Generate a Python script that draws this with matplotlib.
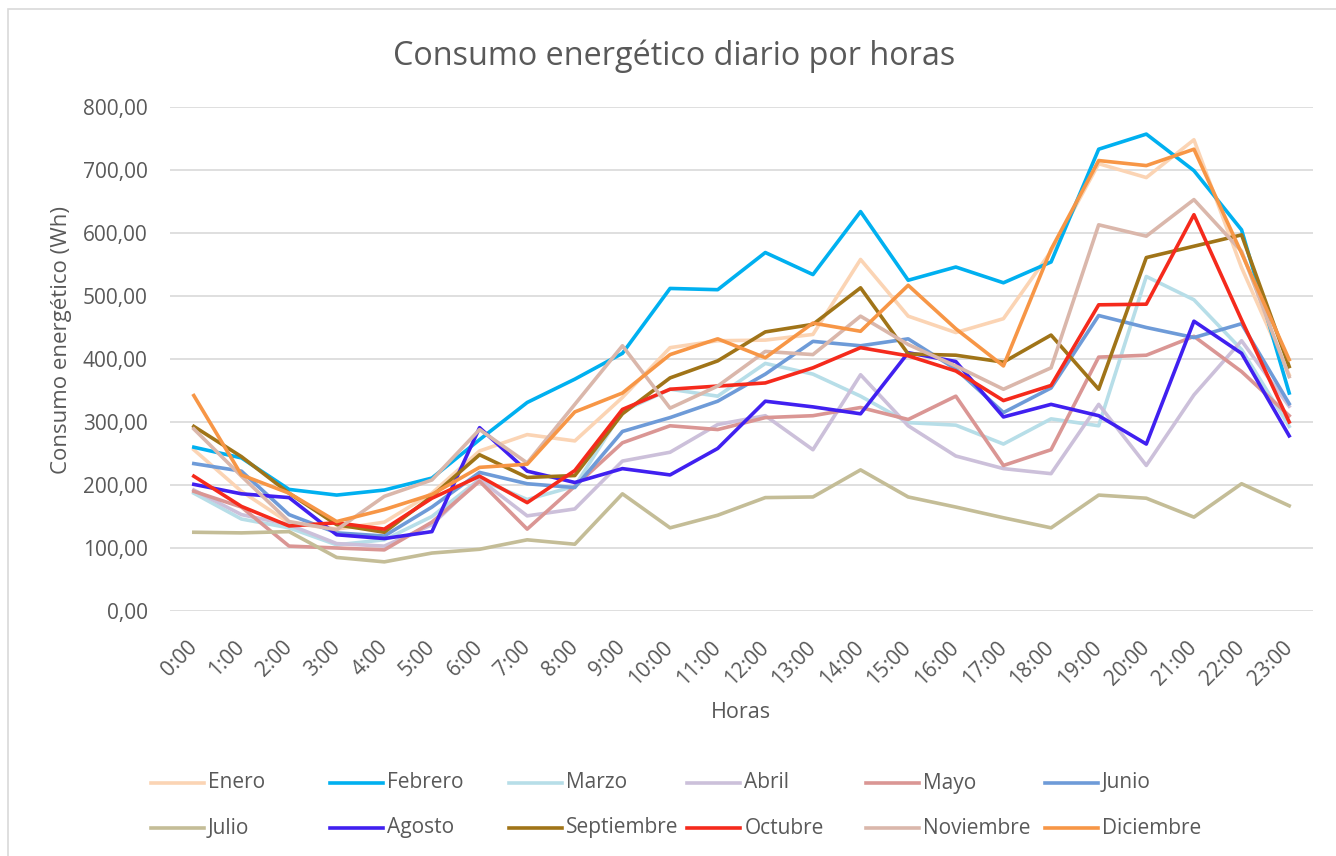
import matplotlib.pyplot as plt
import matplotlib.patches as patches
from matplotlib.lines import Line2D
from matplotlib.ticker import FuncFormatter

plt.rcParams["font.family"] = ["Open Sans", "DejaVu Sans"]

# horas del día
horas = ["%d:00" % h for h in range(24)]

# consumo medio por hora de cada mes (Wh)
enero = [256, 190, 140, 130, 141, 187, 254, 280, 270, 339, 418, 429, 430, 439, 558, 468, 442, 464, 571, 710, 688, 748, 545, 375]
febrero = [260, 243, 193, 184, 192, 211, 272, 331, 368, 409, 512, 510, 569, 534, 634, 525, 546, 521, 554, 733, 757, 699, 605, 346]
marzo = [187, 146, 132, 105, 113, 150, 209, 177, 198, 317, 352, 341, 393, 376, 341, 299, 295, 265, 305, 294, 531, 494, 415, 293]
abril = [192, 153, 137, 107, 103, 137, 209, 151, 162, 238, 252, 296, 310, 256, 375, 294, 246, 226, 218, 328, 231, 343, 429, 325]
mayo = [190, 165, 103, 100, 97, 141, 206, 130, 198, 267, 294, 288, 307, 310, 323, 304, 341, 231, 256, 403, 406, 436, 380, 310]
junio = [234, 222, 153, 124, 119, 165, 220, 202, 196, 285, 307, 333, 376, 428, 421, 432, 384, 315, 354, 469, 450, 434, 456, 329]
julio = [125, 124, 126, 85, 78, 92, 98, 113, 106, 186, 132, 152, 180, 181, 224, 181, 165, 148, 132, 184, 179, 149, 202, 167]
agosto = [201, 186, 180, 121, 115, 126, 291, 222, 204, 226, 216, 258, 333, 324, 313, 410, 396, 308, 328, 310, 265, 460, 409, 278]
septiembre = [293, 245, 187, 137, 125, 182, 248, 212, 215, 313, 370, 397, 443, 455, 513, 408, 406, 395, 438, 352, 561, 579, 597, 388]
octubre = [214, 166, 135, 140, 130, 179, 214, 172, 223, 320, 352, 357, 362, 386, 418, 405, 381, 334, 358, 486, 487, 629, 462, 300]
noviembre = [289, 214, 142, 129, 182, 208, 288, 235, 328, 421, 322, 357, 412, 407, 468, 423, 389, 352, 386, 613, 595, 653, 571, 372]
diciembre = [342, 216, 187, 142, 161, 185, 228, 233, 316, 346, 407, 432, 402, 457, 444, 517, 448, 389, 574, 715, 707, 733, 568, 399]

meses = ["Enero", "Febrero", "Marzo", "Abril", "Mayo", "Junio",
         "Julio", "Agosto", "Septiembre", "Octubre", "Noviembre", "Diciembre"]
series = [enero, febrero, marzo, abril, mayo, junio,
          julio, agosto, septiembre, octubre, noviembre, diciembre]
colores = ["#FBD4B4", "#00B0F0", "#B7DEE8", "#CCC0DA", "#DA9694", "#6E9BD8",
           "#C4BD97", "#4020F0", "#A07418", "#F52A1C", "#DAB7AB", "#F79646"]

gris = "#595959"

fig = plt.figure(figsize=(13.36, 8.56), dpi=100)
W, H = 1336, 856

# marco del gráfico
fig.patches.append(patches.Rectangle((8 / W, -0.1), 1.2, 1 - 9 / H + 0.1,
                                     transform=fig.transFigure, fill=False,
                                     edgecolor="#D9D9D9", linewidth=1.2))

ax = fig.add_axes([170 / W, 1 - 611 / H, (1313 - 170) / W, (611 - 107) / H])

x = list(range(len(horas)))
for nombre, datos, c in zip(meses, series, colores):
    ax.plot(x, datos, color=c, linewidth=2.6, label=nombre, solid_joinstyle="round")

ax.set_xlim(-0.5, 23.5)
ax.set_ylim(0, 800)
ax.set_yticks(range(0, 801, 100))
ax.yaxis.set_major_formatter(FuncFormatter(lambda v, p: ("%.2f" % v).replace(".", ",")))
ax.set_xticks(x)
ax.set_xticklabels(horas, rotation=45, ha="right", va="center", rotation_mode="anchor")
ax.tick_params(axis="both", length=0, labelsize=15, labelcolor=gris)
ax.tick_params(axis="y", pad=16)
ax.tick_params(axis="x", pad=24)
ax.grid(axis="y", color="#D9D9D9", linewidth=1.2)
ax.set_axisbelow(True)
for s in ax.spines.values():
    s.set_visible(False)

fig.text(674 / W, 1 - 56 / H, "Consumo energético diario por horas",
         ha="center", va="center", fontsize=23.3, color=gris)
fig.text(62 / W, 1 - 340 / H, "Consumo energético (Wh)", rotation=90,
         ha="center", va="center", fontsize=16, color=gris)
fig.text(741 / W, 1 - 712 / H, "Horas", ha="center", va="center", fontsize=15.5, color=gris)

# leyenda en dos filas con columnas de igual ancho
for i, (nombre, c) in enumerate(zip(meses, colores)):
    col, fila = i % 6, i // 6
    x0 = 151 + 178.8 * col
    yy = 1 - (783 + 45 * fila) / H
    fig.lines.append(Line2D([x0 / W, (x0 + 53) / W], [yy, yy], transform=fig.transFigure,
                            color=c, linewidth=2.6))
    fig.text((x0 + 57) / W, yy, nombre, ha="left", va="center", fontsize=15, color=gris)

fig.savefig("out.png", dpi=100)
